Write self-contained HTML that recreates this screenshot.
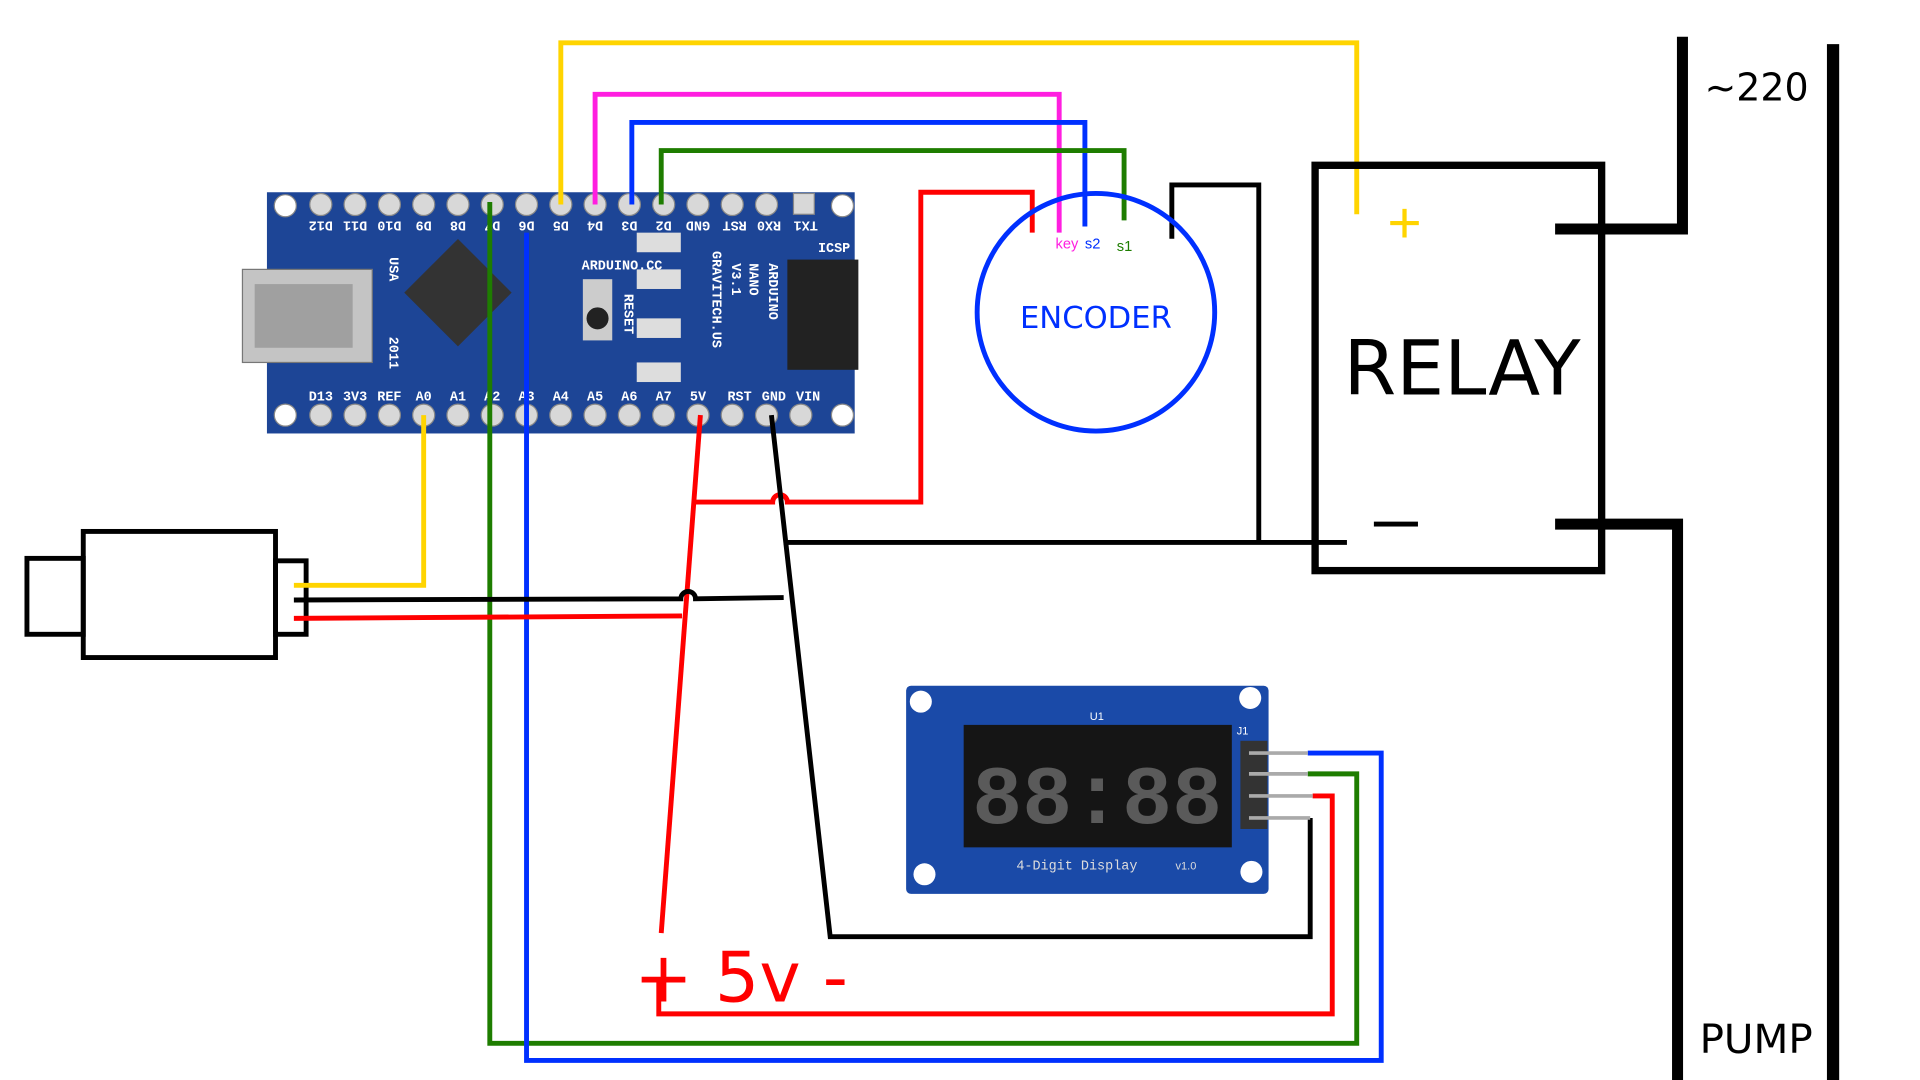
<!DOCTYPE html>
<html><head><meta charset="utf-8"><style>html,body{margin:0;padding:0;background:#fff;overflow:hidden}svg{display:block}</style></head><body>
<svg width="1920" height="1080" viewBox="0 0 1568 882" preserveAspectRatio="none" xmlns="http://www.w3.org/2000/svg" font-family="Liberation Sans, sans-serif">
<rect width="1568" height="882" fill="#fff"/>
<!-- Arduino board -->
<rect x="218" y="157" width="480" height="197" fill="#1d4596"/>
<g fill="#d8d8d8" stroke="#888" stroke-width="1">
<circle cx="233" cy="168" r="9" fill="#fff"/><circle cx="688" cy="168" r="9" fill="#fff"/><circle cx="233" cy="339" r="9" fill="#fff"/><circle cx="688" cy="339" r="9" fill="#fff"/>
<circle cx="262" cy="167" r="9"/><circle cx="290" cy="167" r="9"/><circle cx="318" cy="167" r="9"/><circle cx="346" cy="167" r="9"/><circle cx="374" cy="167" r="9"/><circle cx="402" cy="167" r="9"/><circle cx="430" cy="167" r="9"/><circle cx="458" cy="167" r="9"/><circle cx="486" cy="167" r="9"/><circle cx="514" cy="167" r="9"/><circle cx="542" cy="167" r="9"/><circle cx="570" cy="167" r="9"/><circle cx="598" cy="167" r="9"/><circle cx="626" cy="167" r="9"/><rect x="648" y="158" width="17" height="17"/>
<circle cx="262" cy="339" r="9"/><circle cx="290" cy="339" r="9"/><circle cx="318" cy="339" r="9"/><circle cx="346" cy="339" r="9"/><circle cx="374" cy="339" r="9"/><circle cx="402" cy="339" r="9"/><circle cx="430" cy="339" r="9"/><circle cx="458" cy="339" r="9"/><circle cx="486" cy="339" r="9"/><circle cx="514" cy="339" r="9"/><circle cx="542" cy="339" r="9"/><circle cx="570" cy="339" r="9"/><circle cx="598" cy="339" r="9"/><circle cx="626" cy="339" r="9"/><circle cx="654" cy="339" r="9"/>
</g>
<g fill="#fff" font-size="11" font-weight="bold" font-family="Liberation Mono, monospace" text-anchor="middle">
<text x="262" y="327">D13</text><text x="290" y="327">3V3</text><text x="318" y="327">REF</text><text x="346" y="327">A0</text><text x="374" y="327">A1</text><text x="402" y="327">A2</text><text x="430" y="327">A3</text><text x="458" y="327">A4</text><text x="486" y="327">A5</text><text x="514" y="327">A6</text><text x="542" y="327">A7</text><text x="570" y="327">5V</text><text x="604" y="327">RST</text><text x="632" y="327">GND</text><text x="660" y="327">VIN</text>
<text transform="translate(262,181) rotate(180)">D12</text><text transform="translate(290,181) rotate(180)">D11</text><text transform="translate(318,181) rotate(180)">D10</text><text transform="translate(346,181) rotate(180)">D9</text><text transform="translate(374,181) rotate(180)">D8</text><text transform="translate(402,181) rotate(180)">D7</text><text transform="translate(430,181) rotate(180)">D6</text><text transform="translate(458,181) rotate(180)">D5</text><text transform="translate(486,181) rotate(180)">D4</text><text transform="translate(514,181) rotate(180)">D3</text><text transform="translate(542,181) rotate(180)">D2</text><text transform="translate(570,181) rotate(180)">GND</text><text transform="translate(600,181) rotate(180)">RST</text><text transform="translate(628,181) rotate(180)">RX0</text><text transform="translate(658,181) rotate(180)">TX1</text>
</g>
<g fill="#fff" font-size="11" font-weight="bold" font-family="Liberation Mono, monospace">
<text x="475" y="220">ARDUINO.CC</text>
<text x="668" y="206">ICSP</text>
<text transform="translate(628,215) rotate(90)">ARDUINO</text>
<text transform="translate(612,215) rotate(90)">NANO</text>
<text transform="translate(598,215) rotate(90)">V3.1</text>
<text transform="translate(582,205) rotate(90)">GRAVITECH.US</text>
<text transform="translate(510,240) rotate(90)">RESET</text>
<text transform="translate(318,210) rotate(90)">USA</text>
<text transform="translate(318,275) rotate(90)">2011</text>
</g>
<rect x="198" y="220" width="106" height="76" fill="#c4c4c4" stroke="#777"/>
<rect x="208" y="232" width="80" height="52" fill="#a0a0a0"/>
<rect x="343" y="208" width="62" height="62" fill="#333" transform="rotate(45 374 239)"/>
<rect x="476" y="228" width="24" height="50" fill="#ccc"/><circle cx="488" cy="260" r="9" fill="#222"/>
<rect x="520" y="190" width="36" height="16" fill="#ddd"/><rect x="520" y="220" width="36" height="16" fill="#ddd"/><rect x="520" y="260" width="36" height="16" fill="#ddd"/><rect x="520" y="296" width="36" height="16" fill="#ddd"/>
<rect x="643" y="212" width="58" height="90" fill="#222"/>
<!-- Motor -->
<g fill="none" stroke="#000" stroke-width="4">
<rect x="68" y="434" width="157" height="103"/><rect x="22" y="456" width="46" height="62"/><rect x="225" y="458" width="25" height="60"/>
</g>
<!-- wires -->
<g fill="none" stroke-width="4">
<polyline stroke="#ffd400" points="458,167 458,35 1108,35 1108,175"/>
<polyline stroke="#ff1ee0" points="486,167 486,77 865,77 865,190"/>
<polyline stroke="#0030ff" points="516,167 516,100 886,100 886,185"/>
<polyline stroke="#1e7d00" points="540,167 540,123 918,123 918,180"/>
<polyline stroke="#ffd400" points="240,478 346,478 346,339"/>
<polyline stroke="#1e7d00" points="400,165 400,852 1108,852 1108,632 1068,632"/>
<polyline stroke="#0030ff" points="430,190 430,866 1128,866 1128,615 1068,615"/>
<path stroke="#ff0000" d="M843,190 L843,157 L752,157 L752,410 L643,410 A6 6 0 0 0 631,410 L567,410"/>
<polyline stroke="#ff0000" points="572,339 540,762"/>
<polyline stroke="#ff0000" points="538,800 538,828 1088,828 1088,650 1072,650"/>
<polyline stroke="#ff0000" points="240,505 557,503"/>
<path stroke="#000" d="M240,490 L556,489 A6 6 0 0 1 568,489 L640,488"/>
<polyline stroke="#000" points="630,339 678,765 1070,765 1070,668"/>
<polyline stroke="#000" points="957,195 957,151 1028,151 1028,443"/>
<polyline stroke="#000" points="640,443 1100,443"/>
</g>
<!-- Encoder -->
<circle cx="895" cy="255" r="97" fill="none" stroke="#0030ff" stroke-width="4"/>
<text x="895" y="268" font-size="25" fill="#0030ff" text-anchor="middle" font-family="DejaVu Sans, sans-serif">ENCODER</text>
<text x="862" y="203" font-size="12" fill="#ff1ee0">key</text>
<text x="886" y="203" font-size="12" fill="#0030ff">s2</text>
<text x="912" y="205" font-size="12" fill="#1e7d00">s1</text>
<!-- Relay -->
<rect x="1074" y="135" width="234" height="331" fill="none" stroke="#000" stroke-width="6"/>
<text x="1194" y="322" font-size="62" text-anchor="middle" font-family="DejaVu Sans, sans-serif">RELAY</text>
<text x="1147" y="198" font-size="48" fill="#ffd400" text-anchor="middle">+</text>
<rect x="1122" y="426" width="36" height="4" fill="#000"/>
<g fill="none" stroke="#000" stroke-width="9">
<polyline points="1270,187 1374,187 1374,30"/>
<polyline points="1270,428 1370,428 1370,882"/>
<line x1="1497" y1="36" x2="1497" y2="882" stroke-width="10"/>
</g>
<text x="1392" y="82" font-size="31" font-family="DejaVu Sans, sans-serif">~220</text>
<text x="1388" y="860" font-size="33" font-family="DejaVu Sans, sans-serif">PUMP</text>
<text x="518" y="818" font-size="57" fill="#ff0000" font-family="DejaVu Sans, sans-serif">+ 5v -</text>
<!-- Display module -->
<rect x="740" y="560" width="296" height="170" rx="4" fill="#1a4aa8"/>
<circle cx="752" cy="573" r="9" fill="#fff"/><circle cx="1021" cy="570" r="9" fill="#fff"/><circle cx="755" cy="714" r="9" fill="#fff"/><circle cx="1022" cy="712" r="9" fill="#fff"/>
<rect x="787" y="592" width="219" height="100" fill="#151515"/>
<text x="896" y="672" font-size="68" fill="#5a5a5a" text-anchor="middle" font-family="Liberation Mono, monospace" font-weight="bold">88:88</text>
<text x="830" y="710" font-size="11" fill="#ddd" font-family="Liberation Mono, monospace">4-Digit Display</text>
<text x="960" y="710" font-size="9" fill="#ddd">v1.0</text>
<text x="890" y="588" font-size="9" fill="#fff">U1</text><text x="1010" y="600" font-size="9" fill="#fff">J1</text>
<rect x="1013" y="605" width="22" height="72" fill="#333"/>
<g stroke="#aaa" stroke-width="3"><line x1="1020" y1="615" x2="1068" y2="615"/><line x1="1020" y1="632" x2="1068" y2="632"/><line x1="1020" y1="650" x2="1072" y2="650"/><line x1="1020" y1="668" x2="1070" y2="668"/></g>
</svg>
</body></html>
